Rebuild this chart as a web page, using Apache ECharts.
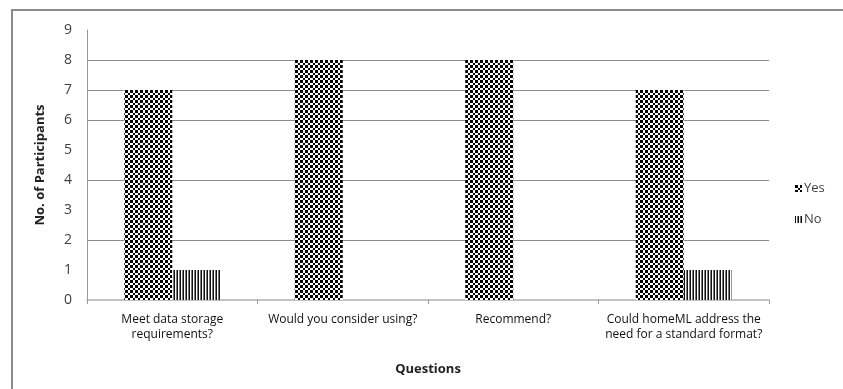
<!DOCTYPE html>
<html>
<head>
<meta charset="utf-8">
<script src="https://cdn.jsdelivr.net/npm/echarts@6/dist/echarts.min.js"></script>
<style>
  html, body { margin: 0; padding: 0; background: #fff; }
  #chart { width: 843px; height: 389px; }
</style>
</head>
<body>
<div id="chart"></div>
<script>
// Survey answers per question
const questions = [
  'Meet data storage\nrequirements?',
  'Would you consider using?',
  'Recommend?',
  'Could homeML address the\nneed for a standard format?'
];
const yesCounts = [7, 8, 8, 7];
const noCounts = [1, 0, 0, 1];
const yTicks = [0, 1, 2, 3, 4, 5, 6, 7, 8, 9];

// Fill patterns for the two series
function checkerPattern() {
  // checks of alternating 3px / 2px size
  const edges = [0, 3, 5, 8, 10];
  const c = document.createElement('canvas');
  c.width = 10; c.height = 10;
  const g = c.getContext('2d');
  g.fillStyle = '#fff'; g.fillRect(0, 0, 10, 10);
  g.fillStyle = '#000';
  for (let i = 0; i < 4; i++) {
    for (let j = 0; j < 4; j++) {
      if ((i + j) % 2 === 0) {
        g.fillRect(edges[i], edges[j], edges[i + 1] - edges[i], edges[j + 1] - edges[j]);
      }
    }
  }
  return { image: c, repeat: 'repeat' };
}
function stripePattern() {
  const c = document.createElement('canvas');
  c.width = 3; c.height = 3;
  const g = c.getContext('2d');
  g.fillStyle = '#111'; g.fillRect(0, 0, 1, 3);
  g.fillStyle = '#fff'; g.fillRect(1, 0, 1, 3);
  g.fillStyle = '#7a7a7a'; g.fillRect(2, 0, 1, 3);
  return { image: c, repeat: 'repeat' };
}

const font = '"Open Sans", "Liberation Sans", sans-serif';
const gridColors = yTicks.map(v => ([2, 4, 6, 7, 8].includes(v) ? '#8c8c8c' : 'rgba(0,0,0,0)'));

const chart = echarts.init(document.getElementById('chart'), null, { renderer: 'canvas' });
chart.setOption({
  animation: false,
  backgroundColor: '#fff',
  graphic: [{
    type: 'rect',
    shape: { x: 12, y: 10, width: 840, height: 400 },
    style: { fill: 'none', stroke: '#8c8c8c', lineWidth: 2 },
    silent: true
  }],
  grid: { left: 87, right: 74, top: 30, bottom: 89, containLabel: false },
  legend: {
    orient: 'vertical',
    left: 790,
    top: 177,
    itemWidth: 7,
    itemHeight: 7,
    itemGap: 18,
    icon: 'rect',
    textStyle: { fontFamily: font, fontSize: 13, color: '#404040', padding: [0, 0, 0, -3] },
    data: ['Yes', 'No']
  },
  xAxis: {
    type: 'category',
    data: questions,
    name: 'Questions',
    nameLocation: 'middle',
    nameGap: 63,
    nameTextStyle: { fontFamily: font, fontSize: 13, fontWeight: 'bold', color: '#222' },
    axisLine: { lineStyle: { color: '#b0b0b0', width: 1.5 } },
    axisTick: { show: true, length: 4, lineStyle: { color: '#999' } },
    axisLabel: {
      fontFamily: font, fontSize: 12, color: '#111',
      margin: 12, lineHeight: 15, interval: 0
    }
  },
  yAxis: {
    type: 'value',
    min: 0,
    max: 9,
    interval: 1,
    name: 'No. of Participants',
    nameLocation: 'middle',
    nameGap: 40,
    nameTextStyle: { fontFamily: font, fontSize: 13, fontWeight: 'bold', color: '#222' },
    axisLine: { show: true, lineStyle: { color: '#999' } },
    axisTick: { show: false },
    axisLabel: { fontFamily: font, fontSize: 14, color: '#404040', margin: 15 },
    splitLine: { show: true, lineStyle: { color: gridColors, width: 1 } }
  },
  series: [
    {
      name: 'Yes',
      type: 'bar',
      data: yesCounts,
      barWidth: 48,
      barGap: '0%',
      itemStyle: { color: checkerPattern() }
    },
    {
      name: 'No',
      type: 'bar',
      data: noCounts,
      barWidth: 48,
      barGap: '0%',
      itemStyle: { color: stripePattern() }
    }
  ]
});
</script>
</body>
</html>
